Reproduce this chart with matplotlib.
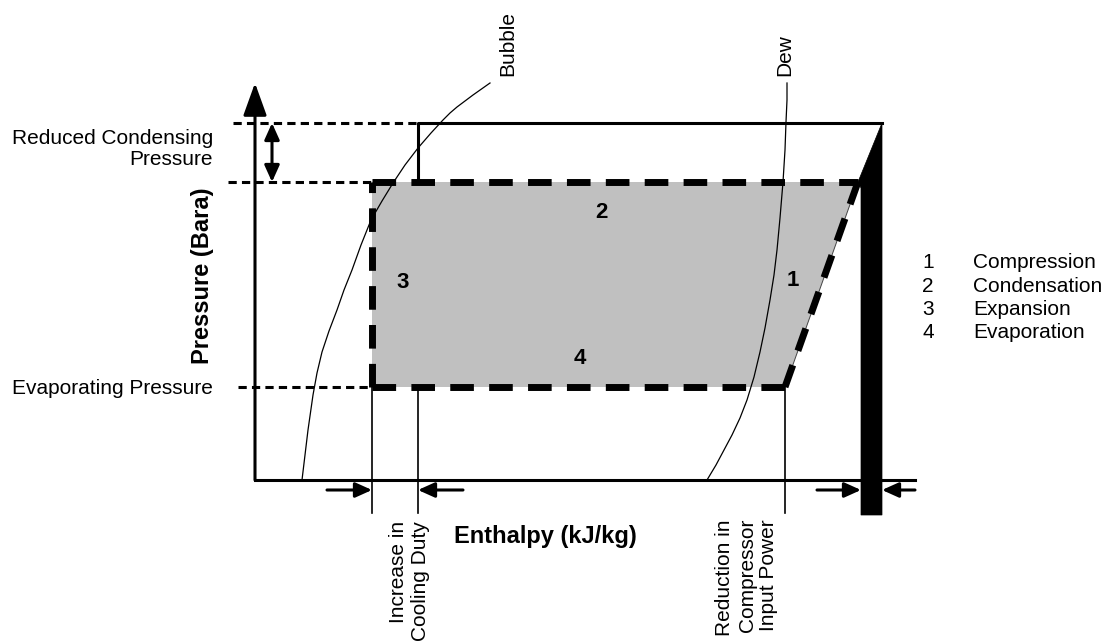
import numpy as np
import matplotlib
matplotlib.use('Agg')
import matplotlib.pyplot as plt
from matplotlib.patches import Polygon

plt.rcParams['font.family'] = ['Liberation Sans', 'DejaVu Sans']

# schematic P-h diagram, positions in picture units (x right, y down)
# pressure levels
p_reduced = 123
p_cond = 182
p_evap = 387
p_floor = 480
p_top = 83

# enthalpy positions
h_axis = 255
h_exp_new = 372
h_exp_old = 418
h_comp_in = 785
h_comp_out = 858
h_bar = [861, 882]
h_end = 915

# saturation curves
bubble_h = [302, 305, 308, 313, 317, 322, 329, 337, 344, 352, 361, 371, 382, 393, 405, 418, 431, 443, 450, 457, 473, 490]
bubble_p = [480, 455, 430, 395, 373, 352, 331, 310, 290, 270, 245, 220, 201, 183, 165, 148, 133, 120, 113, 107, 95, 83]
dew_h = [787, 787, 786, 785, 783, 780, 777, 774, 770, 765, 760, 754, 747, 740, 732, 724, 716, 707]
dew_p = [83, 100, 122, 150, 182, 218, 250, 275, 300, 328, 352, 377, 400, 418, 435, 450, 465, 480]

# labels
stage_nums = ['1', '2', '3', '4']
stage_names = ['Compression', 'Condensation', 'Expansion', 'Evaporation']
stage_pos = [(793, 281), (601, 213), (403, 283), (580, 358)]


def arrow(ax, tip, tail, style='-|>', scale=10, hl=1.0, hw=0.45, lw=2.2):
    ax.annotate('', xy=tip, xytext=tail,
                arrowprops=dict(arrowstyle=f'{style},head_length={hl},head_width={hw}',
                                mutation_scale=scale, lw=lw, color='black',
                                shrinkA=0, shrinkB=0))


fig = plt.figure(figsize=(11.08, 6.42), dpi=100)
ax = fig.add_axes([0, 0, 1, 1])
ax.set_xlim(0, 1108)
ax.set_ylim(642, 0)
ax.axis('off')

thin_dash = (0, (2.7, 1.7))
thick_dash = (0, (3.4, 2.2))

# shaded cycle
cycle = Polygon([(h_exp_new, p_cond), (h_comp_out, p_cond), (h_comp_in, p_evap), (h_exp_new, p_evap)],
                closed=True, facecolor='#c0c0c0', edgecolor='none', zorder=1)
ax.add_patch(cycle)
ax.plot([h_comp_out, h_comp_in], [p_cond, p_evap], color='#444444', lw=0.7, zorder=2)

# black compressor wedge
wedge = Polygon([(h_bar[1], p_reduced), (h_comp_out, p_cond), (h_bar[0], p_cond + 6),
                 (h_bar[0], 515), (h_bar[1], 515)], closed=True, facecolor='black',
                edgecolor='black', lw=0.5, zorder=3)
ax.add_patch(wedge)

# thick dashed cycle edges
ax.plot([h_exp_new, h_exp_new], [p_evap, p_cond], color='black', lw=5, ls=thick_dash, zorder=4)
ax.plot([h_exp_new, h_comp_out], [p_cond, p_cond], color='black', lw=5, ls=thick_dash, zorder=4)
ax.plot([h_exp_new, h_comp_in], [p_evap, p_evap], color='black', lw=5, ls=thick_dash, zorder=4)
ax.plot([h_comp_out, h_comp_in], [p_cond, p_evap], color='black', lw=5, ls=thick_dash, zorder=4)

# reduced condensing line
ax.plot([h_exp_old, h_exp_old, h_bar[1]], [p_cond, p_reduced, p_reduced], color='black', lw=2.2, zorder=4)

# thin dashed pressure guides
ax.plot([233, h_exp_old], [p_reduced, p_reduced], color='black', lw=2.2, ls=thin_dash, zorder=4)
ax.plot([228, h_exp_new], [p_cond, p_cond], color='black', lw=2.2, ls=thin_dash, zorder=4)
ax.plot([238, h_exp_new], [p_evap, p_evap], color='black', lw=2.2, ls=thin_dash, zorder=4)

# saturation curves
ax.plot(bubble_h, bubble_p, color='black', lw=0.9, zorder=5)
ax.plot(dew_h, dew_p, color='black', lw=0.9, zorder=5)

# axes
ax.plot([h_axis, h_end], [p_floor, p_floor], color='black', lw=2.2, zorder=5)
arrow(ax, (h_axis, p_top), (h_axis, p_floor), scale=10, hl=2.0, hw=0.72, lw=2.2)

# enthalpy drop lines
for h in [h_exp_new, h_exp_old, h_comp_in]:
    ax.plot([h, h], [p_evap, 513], color='black', lw=1.2, zorder=5)

# difference arrows
arrow(ax, (h_exp_new, 490), (327, 490))
arrow(ax, (h_exp_old, 490), (463, 490))
arrow(ax, (h_bar[0], 490), (817, 490))
arrow(ax, (h_bar[1], 490), (h_end, 490))
arrow(ax, (272, p_reduced), (272, p_cond), style='<|-|>', hl=1.0, hw=0.45, lw=2.2)

fs = 15
ax.text(213, 149, 'Reduced Condensing\nPressure', ha='right', va='center', ma='right',
        fontsize=fs, linespacing=1.15)
ax.text(213, 388, 'Evaporating Pressure', ha='right', va='center', fontsize=fs)
ax.text(202, 276, 'Pressure (Bara)', rotation=90, ha='center', va='center',
        fontsize=17, fontweight='bold')
ax.text(545, 537, 'Enthalpy (kJ/kg)', ha='center', va='center', fontsize=17, fontweight='bold')
ax.text(410, 521, 'Increase in\nCooling Duty', rotation=90, ha='center', va='top', ma='right',
        fontsize=fs, linespacing=1.2)
ax.text(747, 519, 'Reduction in\nCompressor\nInput Power', rotation=90, ha='center', va='top',
        ma='right', fontsize=fs, linespacing=1.2)
ax.text(508, 76, 'Bubble', rotation=90, ha='center', va='bottom', fontsize=fs)
ax.text(785, 76, 'Dew', rotation=90, ha='center', va='bottom', fontsize=fs)

for num, (x, y) in zip(stage_nums, stage_pos):
    ax.text(x, y, num, ha='center', va='center', fontsize=16, fontweight='bold', zorder=6)

for i, (num, name) in enumerate(zip(stage_nums, stage_names)):
    y = 263 + i * 23.3
    ax.text(928, y, num, ha='center', va='center', fontsize=fs)
    ax.text(973, y, name, ha='left', va='center', fontsize=fs)

fig.savefig('out.png', dpi=100)
